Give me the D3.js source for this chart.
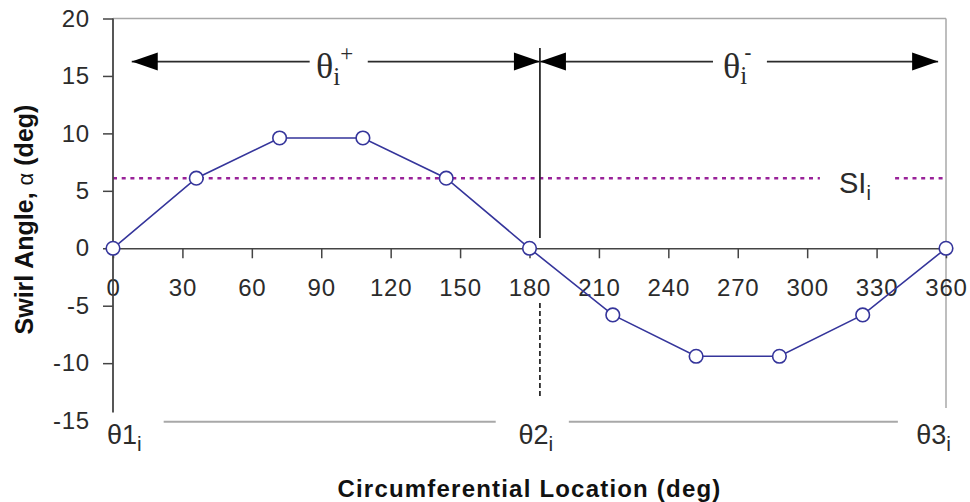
<!DOCTYPE html>
<html>
<head>
<meta charset="utf-8">
<script src="https://cdn.jsdelivr.net/npm/d3@7"></script>
<style>
  body { margin: 0; background: #fff; }
  svg { display: block; font-family: "Liberation Sans", Arial, sans-serif; }
</style>
</head>
<body>
<svg id="chart" width="970" height="502"></svg>
<script>
// data
var angles = [0, 36, 72, 108, 144, 180, 216, 252, 288, 324, 360];
var swirl = [0, 6.1, 9.6, 9.6, 6.1, 0, -5.8, -9.4, -9.4, -5.8, 0];
var xTicks = [0, 30, 60, 90, 120, 150, 180, 210, 240, 270, 300, 330, 360];
var yTicks = [20, 15, 10, 5, 0, -5, -10, -15];
var swirlIntensity = 6.1; // SI_i level
var theta2 = 184.5;       // split between theta+ and theta-

var points = angles.map(function (a, i) {
  return { angle: a, value: swirl[i] };
});

var x = d3.scaleLinear().domain([0, 360]).range([113, 946]);
var y = d3.scaleLinear().domain([-15, 20]).range([420.6, 18.5]);

var svg = d3.select("#chart");
var ink = "#2b2b2b";
var blue = "#35359b";
var plain = function (d) { return String(d); }; // keep ascii hyphen for negatives

// light grey frame, top and right
svg.append("line")
  .attr("x1", x(0)).attr("x2", x(360))
  .attr("y1", y(20)).attr("y2", y(20))
  .attr("stroke", "#a8a8a8").attr("stroke-width", 1.5);
svg.append("line")
  .attr("x1", x(360)).attr("x2", x(360))
  .attr("y1", y(20)).attr("y2", y(-13.9))
  .attr("stroke", "#a8a8a8").attr("stroke-width", 1.5);

// grey guide lines along the bottom
[[21.9, 165.4], [197, 339.2]].forEach(function (s) {
  svg.append("line")
    .attr("x1", x(s[0])).attr("x2", x(s[1]))
    .attr("y1", y(-15.1)).attr("y2", y(-15.1))
    .attr("stroke", "#a8a8a8").attr("stroke-width", 2);
});

// SI dotted line, with a gap for its label
[[0, 305.5], [338, 360]].forEach(function (s) {
  svg.append("line")
    .attr("x1", x(s[0])).attr("x2", x(s[1]))
    .attr("y1", y(swirlIntensity)).attr("y2", y(swirlIntensity))
    .attr("stroke", "#992299").attr("stroke-width", 2.5)
    .attr("stroke-dasharray", "4,4.7");
});

// X axis on the zero line
var xAxis = svg.append("g")
  .attr("transform", "translate(0," + y(0) + ")")
  .call(d3.axisBottom(x).tickValues(xTicks).tickFormat(plain)
    .tickSize(10).tickPadding(21).tickSizeOuter(0));
xAxis.attr("font-family", null).attr("font-size", null);
xAxis.select(".domain").attr("stroke", "#444").attr("stroke-width", 1.5);
xAxis.selectAll(".tick line").attr("stroke", "#444").attr("stroke-width", 1.5);
xAxis.selectAll(".tick text")
  .attr("font-size", 24).attr("fill", ink).attr("letter-spacing", 0.8);

// Y axis
var yAxis = svg.append("g")
  .attr("transform", "translate(" + x(0) + ",0)")
  .call(d3.axisLeft(y).tickValues(yTicks).tickFormat(plain)
    .tickSize(10).tickPadding(13));
yAxis.attr("font-family", null).attr("font-size", null);
yAxis.select(".domain").remove();
yAxis.selectAll(".tick").filter(function (d) { return d == -15; }).select("line").remove();
yAxis.selectAll(".tick line").attr("stroke", "#444").attr("stroke-width", 1.5);
yAxis.selectAll(".tick text")
  .attr("font-size", 24).attr("fill", ink).attr("letter-spacing", 0.8);
svg.append("line")
  .attr("x1", x(0)).attr("x2", x(0))
  .attr("y1", y(20)).attr("y2", y(-14.3))
  .attr("stroke", "#444").attr("stroke-width", 1.8);

// vertical markers at theta2
svg.append("line")
  .attr("x1", x(theta2)).attr("x2", x(theta2))
  .attr("y1", y(17.43)).attr("y2", y(0.9))
  .attr("stroke", ink).attr("stroke-width", 1.8);
svg.append("line")
  .attr("x1", x(theta2)).attr("x2", x(theta2))
  .attr("y1", y(-4.76)).attr("y2", y(-13))
  .attr("stroke", ink).attr("stroke-width", 1.8)
  .attr("stroke-dasharray", "5,3");

// theta+ / theta- arrows
var arrowY = y(16.25);
function arrowLine(a, b) {
  svg.append("line")
    .attr("x1", x(a)).attr("x2", x(b))
    .attr("y1", arrowY).attr("y2", arrowY)
    .attr("stroke", ink).attr("stroke-width", 1.8);
}
function arrowHead(at, dir) {
  var tip = x(at), base = tip - dir * 26;
  svg.append("path")
    .attr("d", "M" + tip + "," + arrowY + "L" + base + "," + (arrowY - 9) +
      "L" + base + "," + (arrowY + 9) + "Z")
    .attr("fill", "#000");
}
arrowLine(8.1, 85);
arrowLine(110.1, theta2);
arrowLine(theta2, 259.3);
arrowLine(282.6, 356.6);
arrowHead(8.1, -1);
arrowHead(theta2, 1);
arrowHead(theta2, -1);
arrowHead(356.6, 1);

var serif = "'Liberation Serif', 'Times New Roman', serif";
var tPlus = svg.append("text")
  .attr("x", 316).attr("y", 78)
  .attr("font-family", serif).attr("font-size", 36).attr("fill", ink);
tPlus.append("tspan").text("θ");
tPlus.append("tspan").attr("font-size", 25).attr("dy", 7).text("i");
tPlus.append("tspan").attr("font-size", 23).attr("dy", -24).text("+");

var tMinus = svg.append("text")
  .attr("x", 723).attr("y", 78)
  .attr("font-family", serif).attr("font-size", 36).attr("fill", ink);
tMinus.append("tspan").text("θ");
tMinus.append("tspan").attr("font-size", 25).attr("dy", 6).text("i");
tMinus.append("tspan").attr("font-size", 22).attr("dx", -3).attr("dy", -24)
  .attr("font-family", "'Liberation Sans', Arial, sans-serif").text("-");

// SI label
var si = svg.append("text")
  .attr("x", 839).attr("y", 193)
  .attr("font-size", 29).attr("fill", ink);
si.append("tspan").text("SI");
si.append("tspan").attr("font-size", 20).attr("dy", 7).text("i");

// theta1 / theta2 / theta3 labels under the plot
function thetaLabel(px, anchor, num) {
  var t = svg.append("text")
    .attr("x", px).attr("y", 444)
    .attr("text-anchor", anchor)
    .attr("font-size", 27).attr("fill", ink);
  t.append("tspan").text("θ" + num);
  t.append("tspan").attr("font-size", 21).attr("dy", 7).text("i");
}
thetaLabel(x(0) - 6, "start", 1);
thetaLabel(x(theta2) - 4, "middle", 2);
thetaLabel(x(360) + 5, "end", 3);

// axis titles
svg.append("text")
  .attr("x", (x(0) + x(360)) / 2).attr("y", 497)
  .attr("text-anchor", "middle")
  .attr("font-size", 24).attr("font-weight", "bold")
  .attr("letter-spacing", 1.2).attr("fill", "#111")
  .text("Circumferential Location (deg)");

var yTitle = svg.append("text")
  .attr("transform", "translate(33," + (y(20) + y(-15)) / 2 + ") rotate(-90)")
  .attr("text-anchor", "middle")
  .attr("font-size", 25).attr("font-weight", "bold").attr("fill", "#111");
yTitle.append("tspan").text("Swirl Angle, ");
yTitle.append("tspan").attr("font-weight", "normal").attr("font-size", 22).text("α");
yTitle.append("tspan").text("  (deg)");

// swirl angle series
var line = d3.line()
  .x(function (d) { return x(d.angle); })
  .y(function (d) { return y(d.value); });

svg.append("path")
  .datum(points)
  .attr("d", line)
  .attr("fill", "none")
  .attr("stroke", blue)
  .attr("stroke-width", 1.6);

svg.selectAll(".pt")
  .data(points)
  .enter()
  .append("circle")
  .attr("class", "pt")
  .attr("cx", function (d) { return x(d.angle); })
  .attr("cy", function (d) { return y(d.value); })
  .attr("r", 6.8)
  .attr("fill", "#fff")
  .attr("stroke", blue)
  .attr("stroke-width", 1.6);
</script>
</body>
</html>
